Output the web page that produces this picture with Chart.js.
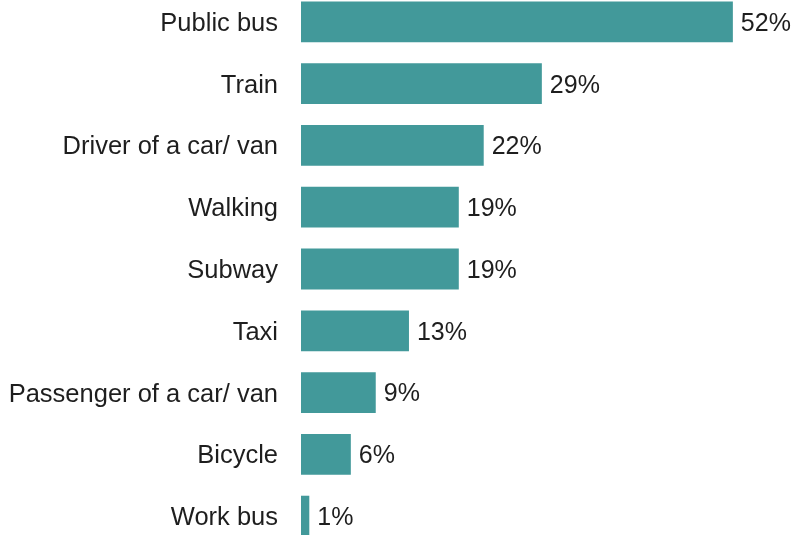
<!DOCTYPE html>
<html>
<head>
<meta charset="utf-8">
<script src="https://cdn.jsdelivr.net/npm/chart.js@4"></script>
<style>
  html, body { margin: 0; padding: 0; background: #fff; overflow: hidden; }
  #chart { position: absolute; left: 0; top: -9px; }
</style>
</head>
<body>
<canvas id="chart" width="791" height="556"></canvas>
<script>
// 교통수단 이용 비율 (%)
const modes = ["Public bus", "Train", "Driver of a car/ van", "Walking", "Subway", "Taxi", "Passenger of a car/ van", "Bicycle", "Work bus"];
const shares = [52, 29, 22, 19, 19, 13, 9, 6, 1];

const TEAL = "#42999a";
const INK = "#1e1e1e";
const FONT = "'Liberation Sans', Arial, sans-serif";

// 막대 끝에 값 표시
const valueLabels = {
  id: "valueLabels",
  afterDatasetsDraw(chart) {
    const { ctx } = chart;
    const meta = chart.getDatasetMeta(0);
    ctx.save();
    ctx.font = "25px " + FONT;
    ctx.fillStyle = INK;
    ctx.textAlign = "left";
    ctx.textBaseline = "middle";
    meta.data.forEach((bar, i) => {
      ctx.fillText(shares[i] + "%", bar.x + 8, bar.y + 2);
    });
    ctx.restore();
  }
};

new Chart(document.getElementById("chart"), {
  type: "bar",
  data: {
    labels: modes,
    datasets: [{
      data: shares,
      backgroundColor: TEAL,
      borderWidth: 0,
      barPercentage: 0.66,
      categoryPercentage: 1
    }]
  },
  options: {
    indexAxis: "y",
    responsive: false,
    animation: false,
    layout: { padding: 0 },
    plugins: { legend: { display: false }, tooltip: { enabled: false } },
    scales: {
      x: { min: 0, max: 59, display: false },
      y: {
        grid: { display: false },
        border: { display: false },
        // 라벨 영역 폭 고정, 위아래 여백 제거
        afterFit: (s) => { s.width = 301; s.paddingTop = 0; s.paddingBottom = 0; },
        ticks: { color: INK, padding: 15, labelOffset: 2, font: { family: FONT, size: 25.5 } }
      }
    }
  },
  plugins: [valueLabels]
});
</script>
</body>
</html>
